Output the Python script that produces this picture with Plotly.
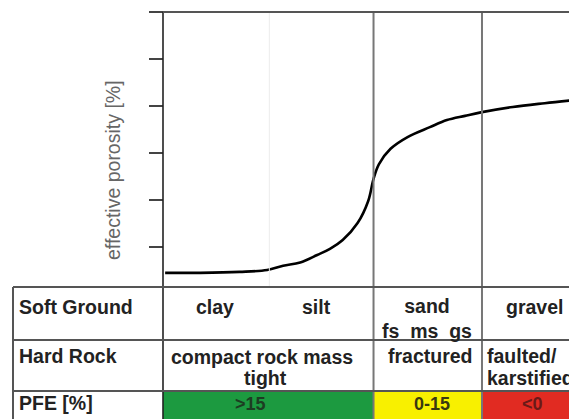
import plotly.graph_objects as go

# ---- data ----
grain_index = [0.02, 0.35, 0.72, 0.98, 1.13, 1.29, 1.45, 1.57, 1.69, 1.83, 1.93, 1.98,
               2.03, 2.14, 2.30, 2.51, 2.67, 2.84, 3.00, 3.29, 3.59, 3.89]
porosity = [-0.55, -0.55, -0.53, -0.49, -0.40, -0.33, -0.17, -0.04, 0.15, 0.51, 0.98, 1.45,
            1.76, 2.09, 2.34, 2.55, 2.70, 2.79, 2.87, 2.98, 3.06, 3.13]
porosity_ticks = [0, 1, 2, 3, 4, 5]
class_bounds = [0.0, 1.0, 1.98, 3.0]          # clay | silt | sand | gravel
soft_ground = ["clay", "silt", "sand<br>fs\u00a0 ms\u00a0 gs", "gravel"]
hard_rock = ["compact rock mass", "tight", "fractured", "faulted/", "karstified"]
row_labels = ["Soft Ground", "Hard Rock", "PFE [%]"]
pfe_labels = [">15", "0-15", "<0"]
pfe_colors = ["#1c9a40", "#f8f000", "#e12b22"]
pfe_text_colors = ["#1d3d22", "#3a3810", "#6a1a18"]

# ---- layout helpers (page pixel layout -> axis units) ----
PAGE_W, PAGE_H = 577, 419
OFF = 8                      # default body margin of the html page
W, H = PAGE_W - OFF, PAGE_H - OFF
X0, XS = 163.0, 106.33
Y0, YS = 247.0, 47.0
def X(px): return (px - X0) / XS
def Y(py): return (Y0 - py) / YS

FONT = "Liberation Sans, Arial, sans-serif"
TXT = "#222222"
LINE = "#555555"

fig = go.Figure()
fig.add_trace(go.Scatter(x=grain_index, y=porosity, mode="lines",
                         line=dict(color="black", width=2.6, shape="spline", smoothing=1.0),
                         hoverinfo="skip", showlegend=False))

shapes = []
# coloured PFE cells
edges = [class_bounds[0], class_bounds[2], class_bounds[3], X(PAGE_W + 5)]
for i, c in enumerate(pfe_colors):
    shapes.append(dict(type="rect", xref="x", yref="y", x0=edges[i], x1=edges[i + 1],
                       y0=Y(391), y1=Y(PAGE_H + 5), fillcolor=c, line=dict(width=0), layer="below"))
# faint clay/silt divider
shapes.append(dict(type="line", xref="x", yref="y", x0=class_bounds[1], x1=class_bounds[1],
                   y0=Y(287), y1=porosity_ticks[-1], line=dict(color="#ececec", width=1)))
# class boundaries (plot + table)
for b in class_bounds[2:]:
    shapes.append(dict(type="line", xref="x", yref="y", x0=b, x1=b, y0=Y(PAGE_H + 5),
                       y1=porosity_ticks[-1], line=dict(color="#777777", width=2)))
# y axis line through table
shapes.append(dict(type="line", xref="x", yref="y", x0=0, x1=0, y0=Y(PAGE_H + 5),
                   y1=porosity_ticks[-1], line=dict(color="#222222", width=1.6)))
# top frame line
shapes.append(dict(type="line", xref="x", yref="y", x0=0, x1=X(PAGE_W + 5), y0=porosity_ticks[-1],
                   y1=porosity_ticks[-1], line=dict(color=LINE, width=2)))
# table frame
shapes.append(dict(type="line", xref="x", yref="y", x0=X(13), x1=X(13), y0=Y(287),
                   y1=Y(PAGE_H + 5), line=dict(color=LINE, width=2)))
for py in (287, 340, 391):
    shapes.append(dict(type="line", xref="x", yref="y", x0=X(13), x1=X(PAGE_W + 5), y0=Y(py),
                       y1=Y(py), line=dict(color=LINE, width=2)))

ann = []
def txt(x, y, t, anchor="center", color=TXT, size=19.5, bold=True):
    ann.append(dict(x=x, y=y, xref="x", yref="y", text=f"<b>{t}</b>" if bold else t,
                    showarrow=False, xanchor=anchor, yanchor="middle",
                    font=dict(family=FONT, size=size, color=color)))

# row labels
for lab, py in zip(row_labels, (307, 356, 403)):
    txt(X(17), Y(py), lab, anchor="left")
# soft ground row
txt(X(215), Y(307), soft_ground[0])
txt(X(316), Y(307), soft_ground[1])
txt(X(427), Y(318), soft_ground[2])
txt(X(534), Y(307), soft_ground[3])
# hard rock row
txt(X(262), Y(357), hard_rock[0])
txt(X(265), Y(378), hard_rock[1])
txt(X(430), Y(356), hard_rock[2])
txt(X(485), Y(356), hard_rock[3], anchor="left")
txt(X(485), Y(378), hard_rock[4], anchor="left")
# PFE row
for lab, c, px in zip(pfe_labels, pfe_text_colors, (250, 432, 532)):
    txt(X(px), Y(404), lab, color=c, size=18)
# axis title
ann.append(dict(x=X(113), y=Y(170), xref="x", yref="y", text="effective porosity [%]",
                textangle=-90, showarrow=False, xanchor="center", yanchor="middle",
                font=dict(family=FONT, size=19.5, color="#666666")))

fig.update_layout(
    width=W, height=H, margin=dict(l=0, r=0, t=0, b=0),
    paper_bgcolor="white", plot_bgcolor="white",
    xaxis=dict(range=[X(OFF), X(PAGE_W)], visible=False, domain=[0, 1]),
    yaxis=dict(range=[Y(PAGE_H), Y(OFF)], anchor="free", position=(X0 - OFF) / W, side="left",
               tickvals=porosity_ticks, ticks="outside", ticklen=14, tickwidth=1.6,
               tickcolor="#444444", showticklabels=False, showgrid=False,
               zeroline=False, showline=False, domain=[0, 1]),
    shapes=shapes, annotations=ann,
)
fig.write_html("out.html")
